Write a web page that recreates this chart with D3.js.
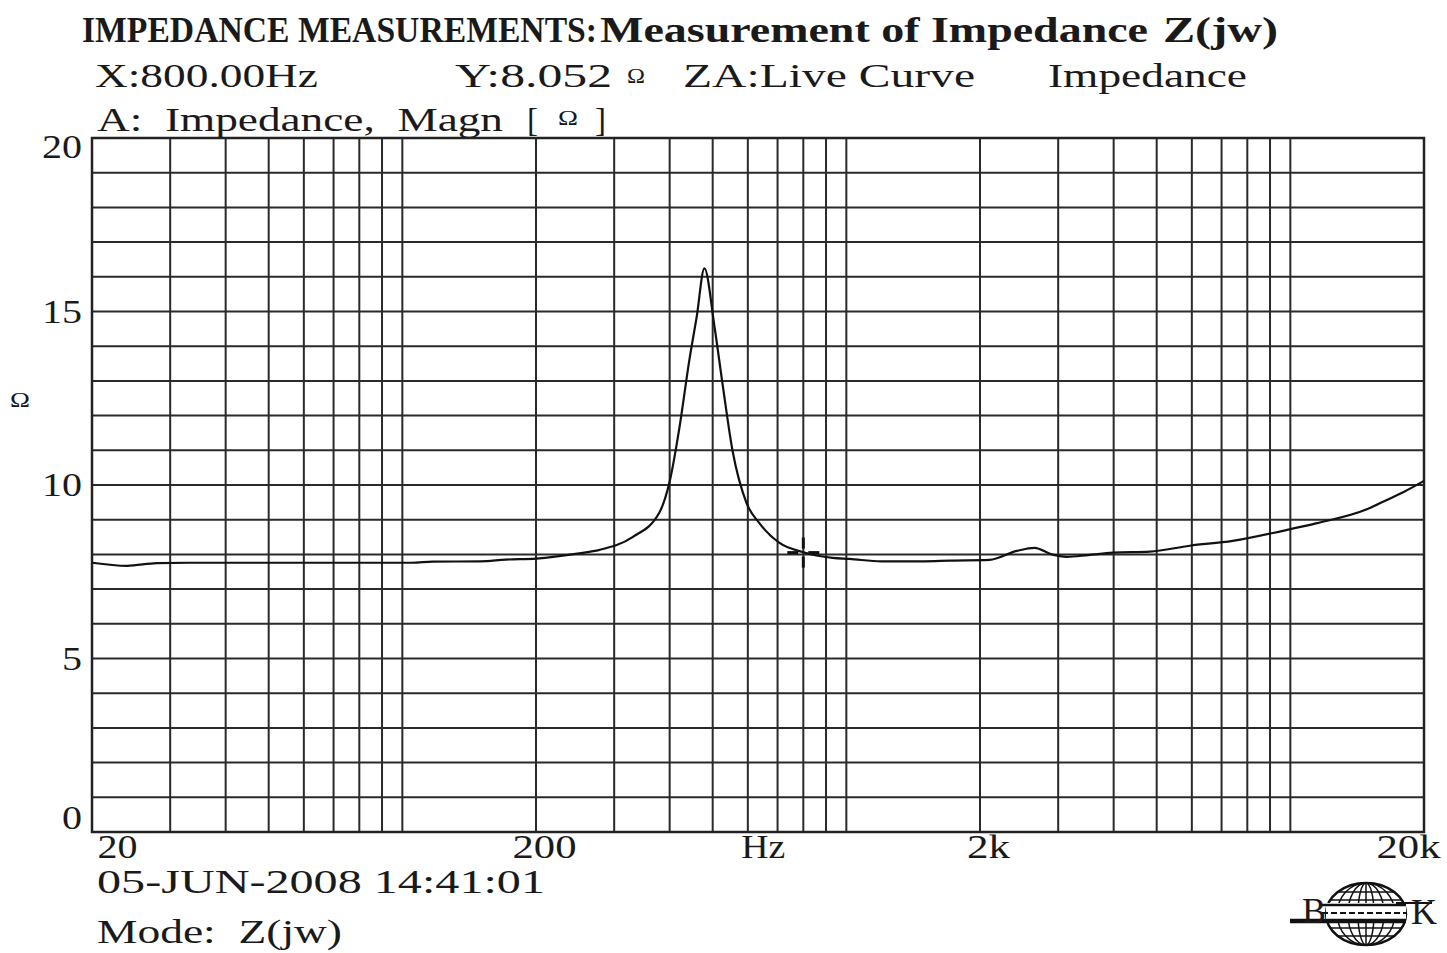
<!DOCTYPE html>
<html>
    <head>
        <meta charset="utf-8">
        <style>

        html, body {
            margin: 0px;
            background: #fff;
        }

        svg text {
          font-family: "Liberation Serif", serif;
          fill: #1a1a1a;
          white-space: pre;
        }

        .grid line {
          stroke: #2a2a2a;
          stroke-width: 2;
        }

        .axis text {
          font-size: 34px;
        }

        </style>
    </head>
    <body>
        <svg class="chart" width="1447" height="953"></svg>
        <script src="https://cdnjs.cloudflare.com/ajax/libs/d3/7.8.5/d3.min.js"></script>
        <script>
            var freqHz = [20, 24, 28, 35, 50, 80, 105, 117, 150, 171, 200, 250, 278, 330, 379, 400, 421, 443, 460, 479,
                          505, 526, 554, 596, 637, 707, 796, 931, 1017, 1200, 1500, 1708, 2100, 2420, 2655, 2900, 3135,
                          3500, 3980, 4823, 5934, 7416, 9617, 11480, 14870, 16490, 18000, 20000];
            var impedance = [7.76, 7.67, 7.75, 7.76, 7.76, 7.76, 7.76, 7.79, 7.8, 7.85, 7.88, 8.03, 8.13, 8.5, 9.2, 10.1, 11.67, 13.6, 14.83, 16.24,
                             14.54, 12.93, 11.0, 9.48, 8.9, 8.33, 8.07, 7.9, 7.87, 7.8, 7.8, 7.82, 7.84, 8.1, 8.19, 8.0, 7.93,
                             7.98, 8.05, 8.08, 8.25, 8.39, 8.68, 8.9, 9.3, 9.57, 9.8, 10.12];

            var cursor = {f: 800, z: 8.052};

            var xTicks = [20, 200, 2000, 20000];
            var xTickLabels = ["20", "200", "2k", "20k"];
            var yTicks = [0, 5, 10, 15, 20];

            var svg = d3.select(".chart");

            var margin = {top: 138, right: 23, bottom: 121, left: 92},
                width = 1447 - margin.left - margin.right,
                height = 953 - margin.top - margin.bottom;

            var x = d3.scaleLog().domain([20, 20000]).range([0, width]);
            var y = d3.scaleLinear().domain([0, 20]).range([height, 0]);

            // header text, stretched to the widths of the printout
            function txt(s, px, py, size, len, bold) {
                var t = svg.append("text")
                    .attr("x", px).attr("y", py)
                    .attr("font-size", size)
                    .text(s);
                if (len) t.attr("textLength", len).attr("lengthAdjust", "spacingAndGlyphs");
                if (bold) t.attr("font-weight", "bold");
                return t;
            }

            txt("IMPEDANCE MEASUREMENTS:", 82, 42, 36, 515, true);
            txt("Measurement of Impedance", 600, 42, 35, 548, true);
            txt("Z(jw)", 1163, 42, 35, 115, true);

            txt("X:800.00Hz", 95, 87, 33, 223);
            txt("Y:8.052", 455, 87, 33, 157);
            txt("\u03a9", 627, 83, 20, 18);
            txt("ZA:Live Curve", 683, 87, 33, 292);
            txt("Impedance", 1048, 87, 33, 199);

            txt("A:  Impedance,  Magn", 97, 131, 33, 406);
            txt("[", 527, 131, 33);
            txt("\u03a9", 558, 125, 20, 20);
            txt("]", 595, 131, 33);

            txt("05-JUN-2008 14:41:01", 97, 893, 34, 448);
            txt("Mode:  Z(jw)", 97, 943, 34, 245);

            txt("\u03a9", 10, 407, 20, 20);

            var chart = svg.append("g")
                .attr("transform", "translate(" + margin.left + "," + margin.top + ")");

            // grid: every ohm, and 1..9 per decade
            var hLines = d3.range(1, 20);
            var vLines = [30, 40, 50, 60, 70, 80, 90, 100, 200, 300, 400, 500, 600, 700, 800, 900, 1000,
                          2000, 3000, 4000, 5000, 6000, 7000, 8000, 9000, 10000];

            var grid = chart.append("g").attr("class", "grid");
            grid.selectAll(".h").data(hLines).enter().append("line")
                .attr("x1", 0).attr("x2", width)
                .attr("y1", function(d) { return y(d); })
                .attr("y2", function(d) { return y(d); });
            grid.selectAll(".v").data(vLines).enter().append("line")
                .attr("y1", 0).attr("y2", height)
                .attr("x1", function(d) { return x(d); })
                .attr("x2", function(d) { return x(d); });

            chart.append("rect")
                .attr("width", width).attr("height", height)
                .attr("fill", "none").attr("stroke", "#222").attr("stroke-width", 2.5);

            // axes
            var xLabelWidth = [40, 64, 43, 64];
            var xAxis = d3.axisBottom(x).tickValues(xTicks).tickSize(0).tickPadding(3)
                .tickFormat(function(d, i) { return xTickLabels[i]; });
            var gx = chart.append("g")
                .attr("class", "x axis")
                .attr("transform", "translate(0," + height + ")")
                .call(xAxis);
            gx.select(".domain").remove();
            gx.selectAll("text")
                .attr("font-family", null)
                .attr("font-size", null)
                .attr("fill", null)
                .attr("textLength", function(d, i) { return xLabelWidth[i]; })
                .attr("lengthAdjust", "spacingAndGlyphs")
                .attr("text-anchor", function(d, i) { return i == 0 ? "start" : (i == xTicks.length - 1 ? "end" : "middle"); })
                .attr("dx", function(d, i) { return i == 0 ? 5 : (i == xTicks.length - 1 ? 16 : 8); })
                .attr("dy", "0.68em");
            gx.append("text")
                .attr("x", x(650)).attr("dy", "0.68em").attr("y", 3)
                .attr("text-anchor", "middle")
                .attr("textLength", 44).attr("lengthAdjust", "spacingAndGlyphs")
                .text("Hz");

            var yAxis = d3.axisLeft(y).tickValues(yTicks).tickSize(0).tickPadding(10);
            var gy = chart.append("g")
                .attr("class", "y axis")
                .call(yAxis);
            gy.select(".domain").remove();
            gy.selectAll("text")
                .attr("font-family", null)
                .attr("font-size", null)
                .attr("fill", null)
                .attr("textLength", function(d) { return d >= 10 ? 40 : 20; })
                .attr("lengthAdjust", "spacingAndGlyphs")
                .attr("dy", function(d) { return d == 20 ? "0.58em" : (d == 0 ? "-0.1em" : "0.32em"); });

            // curve
            var data = freqHz.map(function(f, i) { return {f: f, z: impedance[i]}; });
            var line = d3.line()
                .x(function(d) { return x(d.f); })
                .y(function(d) { return y(d.z); })
                .curve(d3.curveMonotoneX);

            chart.append("path")
                .datum(data)
                .attr("d", line)
                .attr("fill", "none")
                .attr("stroke", "#111")
                .attr("stroke-width", 2.2);

            // cursor cross at X/Y readout
            var cx = x(cursor.f), cy = y(cursor.z);
            var cross = chart.append("g").attr("stroke", "#111").attr("stroke-width", 3);
            [[-16, -5, 0, 0], [5, 16, 0, 0], [0, 0, -15, -4], [0, 0, 4, 15]].forEach(function(s) {
                cross.append("line")
                    .attr("x1", cx + s[0]).attr("x2", cx + s[1])
                    .attr("y1", cy + s[2]).attr("y2", cy + s[3]);
            });

            // B&K logo
            var logo = svg.append("g").attr("transform", "translate(1366,914)")
                .attr("fill", "none").attr("stroke", "#111");
            logo.append("ellipse").attr("rx", 40).attr("ry", 31).attr("fill", "#fff").attr("stroke-width", 2.5);
            [0.72, 0.45, 0.2].forEach(function(k) {
                logo.append("ellipse").attr("rx", 40 * k).attr("ry", 31).attr("stroke-width", 1.5);
            });
            logo.append("line").attr("y1", -31).attr("y2", 31).attr("stroke-width", 1.5);
            [-22, -14, 14, 22].forEach(function(py) {
                var hw = 40 * Math.sqrt(1 - (py * py) / (31 * 31));
                logo.append("line").attr("x1", -hw).attr("x2", hw).attr("y1", py).attr("y2", py).attr("stroke-width", 1.5);
            });
            logo.append("rect").attr("x", -40).attr("y", -11).attr("width", 80).attr("height", 20)
                .attr("fill", "#fff").attr("stroke", "none");
            svg.append("text").attr("x", 1302).attr("y", 923).attr("font-size", 36).text("B");
            svg.append("text").attr("x", 1411).attr("y", 924).attr("font-size", 36).text("K");
            logo.append("line").attr("x1", -44).attr("x2", 40).attr("y1", -9).attr("y2", -9).attr("stroke-width", 2.5);
            logo.append("line").attr("x1", -44).attr("x2", 40).attr("y1", -1).attr("y2", -1)
                .attr("stroke-width", 2).attr("stroke-dasharray", "6,3");
            logo.append("line").attr("x1", -76).attr("x2", 40).attr("y1", 7).attr("y2", 7).attr("stroke-width", 4.5);
            logo.append("line").attr("x1", 30).attr("x2", 66).attr("y1", -11).attr("y2", -11).attr("stroke-width", 2);
        </script>
    </body>
</html>
